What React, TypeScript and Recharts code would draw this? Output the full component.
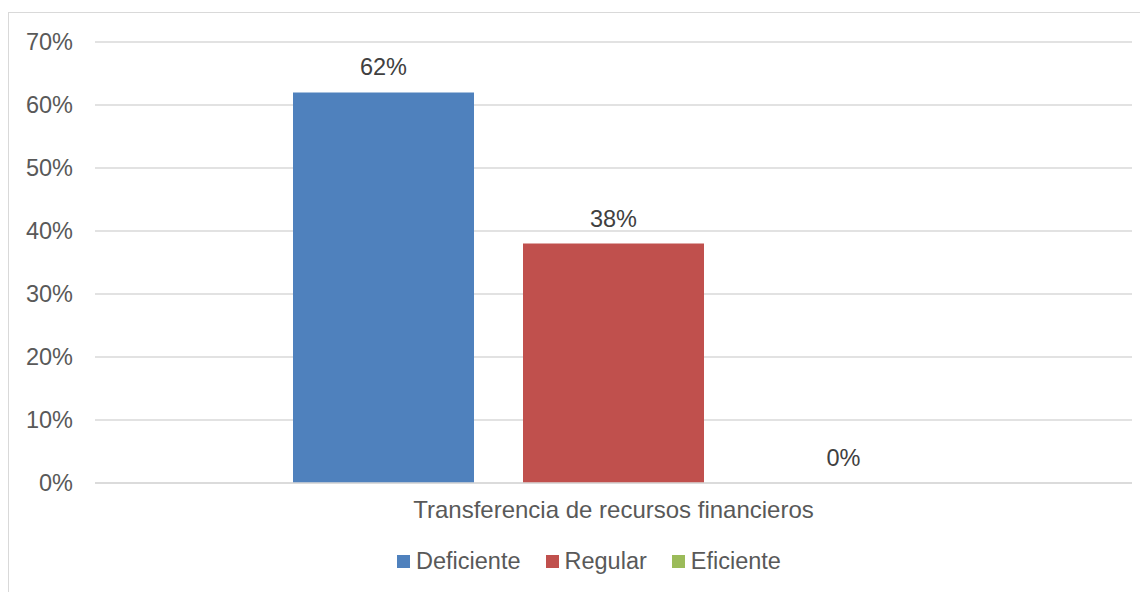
import { BarChart, Bar, XAxis, YAxis, CartesianGrid, Legend, Rectangle } from 'recharts';

const categories = ['Transferencia de recursos financieros'];
const deficiente = [62];
const regular = [38];
const eficiente = [0];
const yTicks = [0, 10, 20, 30, 40, 50, 60, 70];

const SERIES = [
    { key: 'Deficiente', color: '#4f81bd' },
    { key: 'Regular', color: '#c0504d' },
    { key: 'Eficiente', color: '#9bbb59' },
];

const data = categories.map((name, i) => ({
    name,
    Deficiente: deficiente[i],
    Regular: regular[i],
    Eficiente: eficiente[i],
}));

const FONT = '"Liberation Sans", Arial, sans-serif';

const renderLegend = () => (
    <div style={{ display: 'flex', alignItems: 'center', fontFamily: FONT, fontSize: 23.5, color: '#595959' }}>
        {SERIES.map((s, i) => (
            <div key={s.key} style={{ display: 'flex', alignItems: 'center', marginRight: i < SERIES.length - 1 ? 25 : 0 }}>
                <span style={{ width: 13, height: 13, background: s.color, marginRight: 6, display: 'inline-block' }} />
                <span>{s.key}</span>
            </div>
        ))}
    </div>
);

// bar + its value label; drawn here so the 0% bar still gets a label
const makeShape = (key: string) => (props: any) => {
    const { x, y, width, height, payload, fill } = props;
    const value = payload ? payload[key] : undefined;
    return (
        <g>
            {Number(height) > 0 && <Rectangle x={x} y={y} width={width} height={height} fill={fill} />}
            {value !== undefined && value !== null && (
                <text x={Number(x) + Number(width) / 2} y={Number(y) - 17} textAnchor="middle" fill="#404040" fontSize={23.5}>
                    {`${value}%`}
                </text>
            )}
        </g>
    );
};

export default function App() {
    return (
        <div style={{ width: 1140, height: 584, overflow: 'hidden', position: 'relative', background: '#fff' }}>
            <div style={{ position: 'absolute', left: 0, top: 4, width: 1200, height: 700, border: '1px solid #d9d9d9', boxSizing: 'border-box' }} />
            <div style={{ position: 'absolute', left: -8, top: -8 }}>
                <BarChart
                    width={1148}
                    height={592}
                    data={data}
                    margin={{ top: 42, right: 16, bottom: 0, left: 0 }}
                    barSize={181}
                    barGap={49}
                    style={{ fontFamily: FONT }}
                >
                    <CartesianGrid vertical={false} stroke="#d9d9d9" strokeWidth={1.5} />
                    <XAxis
                        dataKey="name"
                        height={109}
                        tickLine={false}
                        axisLine={{ stroke: '#d9d9d9', strokeWidth: 1.5 }}
                        tickMargin={12}
                        tick={{ fill: '#595959', fontSize: 24 }}
                    />
                    <YAxis
                        width={95}
                        domain={[0, 70]}
                        ticks={yTicks}
                        tickFormatter={(v: number) => `${v}%`}
                        axisLine={false}
                        tickLine={false}
                        tickMargin={16}
                        tick={{ fill: '#595959', fontSize: 23.5 }}
                        interval={0}
                    />
                    <Legend
                        layout="horizontal"
                        verticalAlign="middle"
                        align="center"
                        content={renderLegend}
                        wrapperStyle={{ left: 397, top: 548, width: 'auto' }}
                    />
                    {SERIES.map((s) => (
                        <Bar key={s.key} dataKey={s.key} fill={s.color} isAnimationActive={false} shape={makeShape(s.key)} />
                    ))}
                </BarChart>
            </div>
        </div>
    );
}
